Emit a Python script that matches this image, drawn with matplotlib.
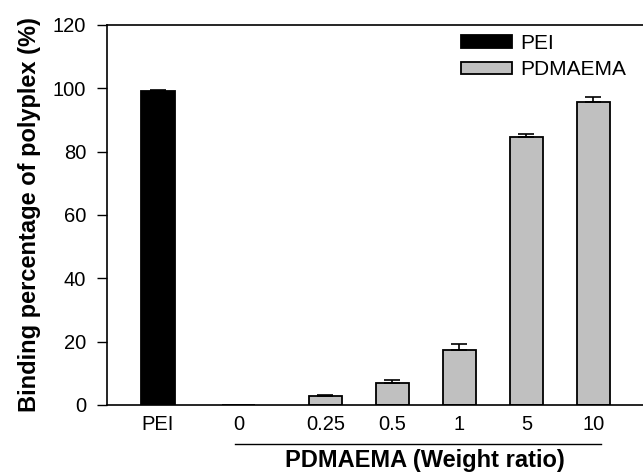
import matplotlib
matplotlib.use('Agg')
import matplotlib.pyplot as plt

plt.rcParams['font.family'] = ['Liberation Sans', 'DejaVu Sans']

labels = ['PEI', '0', '0.25', '0.5', '1', '5', '10']
values = [99.0, 0.0, 2.8, 7.0, 17.4, 84.7, 95.7]
errors = [0.4, 0.0, 0.5, 1.0, 2.0, 1.0, 1.5]
groups = ['PEI', 'PDMAEMA', 'PDMAEMA', 'PDMAEMA', 'PDMAEMA', 'PDMAEMA', 'PDMAEMA']

xpos = [0, 1.2, 2.5, 3.5, 4.5, 5.5, 6.5]
colors = {'PEI': 'black', 'PDMAEMA': '#c0c0c0'}


def main():
    fig = plt.figure(figsize=(6.43, 4.74), dpi=100)
    ax = fig.add_axes([0.1664, 0.1456, 0.8336, 0.8017])

    done = set()
    for x, v, e, g in zip(xpos, values, errors, groups):
        lab = g if g not in done else None
        done.add(g)
        ax.bar(x, v, width=0.5, color=colors[g], edgecolor='black',
               linewidth=1.3, label=lab, zorder=2)
        if v > 0:
            ax.errorbar(x, v, yerr=[[0], [e]], color='black', capsize=6,
                        capthick=1.2, elinewidth=1.2, zorder=3)

    ax.set_xlim(-0.76, 7.24)
    ax.set_ylim(0, 120)
    ax.set_yticks(range(0, 121, 20))
    ax.set_xticks(xpos)
    ax.set_xticklabels(labels)
    ax.tick_params(axis='x', length=0, pad=7, labelsize=14.5)
    ax.tick_params(axis='y', direction='out', length=7, width=1, labelsize=14.5, pad=8)
    ax.spines['right'].set_visible(False)
    for s in ['left', 'top', 'bottom']:
        ax.spines[s].set_linewidth(1.2)

    ax.set_ylabel('Binding percentage of polyplex (%)', fontsize=17,
                  fontweight='bold')
    ax.yaxis.set_label_coords(-0.124, 0.5)

    # bracket line under the PDMAEMA labels
    ax.plot([1.15, 6.62], [-12.3, -12.3], color='black', lw=1, clip_on=False)
    ax.text(3.98, -19.6, 'PDMAEMA (Weight ratio)', ha='center', va='baseline',
            fontsize=17, fontweight='bold')

    ax.legend(loc='upper left', bbox_to_anchor=(461 / 643, 1 - 34 / 474),
              bbox_transform=fig.transFigure, frameon=False,
              fontsize=15, handlelength=2.45, handleheight=0.55,
              labelspacing=0.35, handletextpad=0.4, borderpad=0,
              borderaxespad=0)

    fig.savefig('out.png', dpi=100)


if __name__ == '__main__':
    main()
